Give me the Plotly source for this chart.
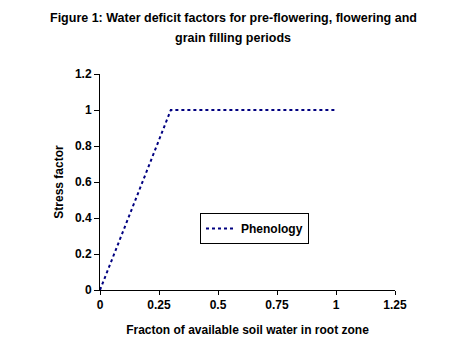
import plotly.graph_objects as go

x_vals = [0, 0.3, 1.0]
y_vals = [0, 1.0, 1.0]
series_name = "Phenology"
x_ticks = [0, 0.25, 0.5, 0.75, 1, 1.25]
x_tick_labels = ["0", "0.25", "0.5", "0.75", "1", "1.25"]
y_ticks = [0, 0.2, 0.4, 0.6, 0.8, 1.0, 1.2]
y_tick_labels = ["0", "0.2", "0.4", "0.6", "0.8", "1", "1.2"]
title_lines = ["Figure 1: Water deficit factors for pre-flowering, flowering and",
               "grain filling periods"]

font_family = "Liberation Sans, Arial, sans-serif"

fig = go.Figure()
fig.add_trace(go.Scatter(
    x=x_vals, y=y_vals, mode="lines", name=f"<b>{series_name}</b>",
    line=dict(color="#000080", width=2, dash="dot"),
))

for i, line in enumerate(title_lines):
    fig.add_annotation(
        text=f"<b>{line}</b>", xref="paper", yref="paper",
        x=0.451, y=1.259 - i * 0.0926, xanchor="center", yanchor="middle",
        showarrow=False, font=dict(family=font_family, size=12.5, color="black"),
    )

fig.update_layout(
    width=467, height=356,
    margin=dict(l=92, r=80, t=66, b=74),
    paper_bgcolor="white", plot_bgcolor="white",
    font=dict(family=font_family, size=12, color="black"),
    showlegend=True,
    legend=dict(
        x=0.339, y=0.357, xanchor="left", yanchor="top",
        bgcolor="white", bordercolor="black", borderwidth=1,
        font=dict(family=font_family, size=12, color="black"),
        tracegroupgap=0, itemwidth=30,
    ),
    xaxis=dict(
        range=[0, 1.25], tickvals=x_ticks, ticktext=[f"<b>{t}</b>" for t in x_tick_labels],
        showgrid=False, zeroline=False, showline=True, linecolor="black", linewidth=1,
        ticks="outside", ticklen=4, tickcolor="black",
        title=dict(text="<b>Fracton of available soil water in root zone</b>", standoff=14,
                   font=dict(family=font_family, size=12)),
    ),
    yaxis=dict(
        range=[0, 1.2], tickvals=y_ticks, ticktext=[f"<b>{t}</b>" for t in y_tick_labels],
        showgrid=False, zeroline=False, showline=True, linecolor="black", linewidth=1,
        ticks="outside", ticklen=5, tickcolor="black",
        title=dict(text="<b>Stress factor</b>", standoff=8,
                   font=dict(family=font_family, size=12)),
    ),
)

fig.write_html("out.html")
